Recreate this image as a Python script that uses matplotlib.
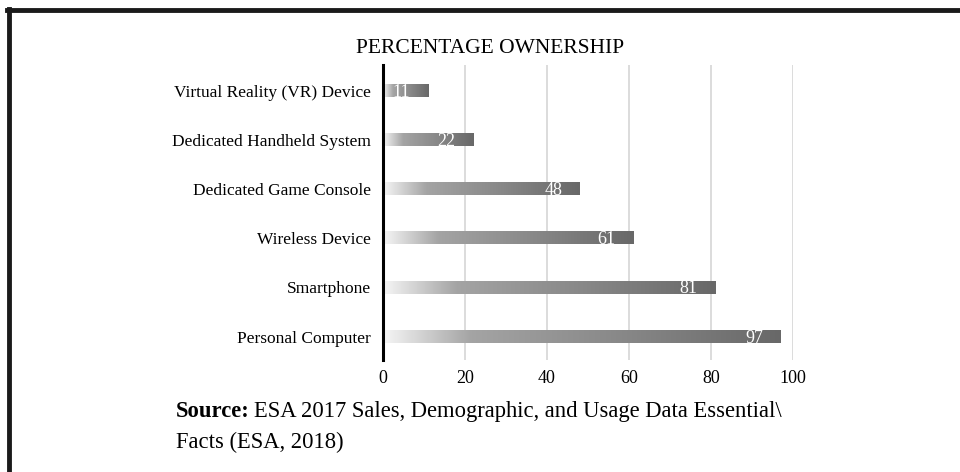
import matplotlib.pyplot as plt
import numpy as np
from matplotlib.colors import LinearSegmentedColormap
from matplotlib.lines import Line2D

devices = ["Personal Computer", "Smartphone", "Wireless Device",
           "Dedicated Game Console", "Dedicated Handheld System",
           "Virtual Reality (VR) Device"]
ownership = [97, 81, 61, 48, 22, 11]
xticks = [0, 20, 40, 60, 80, 100]

plt.rcParams["font.family"] = ["Liberation Serif", "DejaVu Serif"]

fig = plt.figure(figsize=(9.6, 4.72), dpi=100)
ax = fig.add_axes([0.399, 0.237, 0.427, 0.625])

# fade from near-white on the left to dark grey at the bar end
fade = LinearSegmentedColormap.from_list(
    "fade", [(0.0, "#f6f6f6"), (0.22, "#a4a4a4"), (0.6, "#888888"), (1.0, "#686868")])
grad = np.linspace(0, 1, 256).reshape(1, -1)

bar_h = 0.245
for i, (name, val) in enumerate(zip(devices, ownership)):
    ax.imshow(grad, cmap=fade, aspect="auto", interpolation="bicubic",
              extent=[0, val, i - bar_h / 2, i + bar_h / 2], zorder=2)
    ax.text(val - 4.3, i - 0.03, str(val), color="white", fontsize=13,
            ha="right", va="center", zorder=3)

ax.set_xlim(0, 100)
ax.set_ylim(-0.48, 5.53)
ax.set_yticks(range(len(devices)))
ax.set_yticklabels(devices, fontsize=12.5)
ax.set_xticks(xticks)
ax.set_xticklabels([str(t) for t in xticks], fontsize=13)
ax.tick_params(axis="y", length=0, pad=9)
ax.tick_params(axis="x", length=0, pad=7)
ax.xaxis.grid(True, color="#d9d9d9", lw=1.3)
ax.set_axisbelow(True)
for side in ["top", "right", "bottom"]:
    ax.spines[side].set_visible(False)
ax.spines["left"].set_linewidth(2.2)
ax.spines["left"].set_color("black")
ax.spines["left"].set_zorder(4)

fig.text(0.511, 0.897, "PERCENTAGE OWNERSHIP", fontsize=15.5, ha="center", va="center")

src = fig.text(0.183, 0.128, "Source:", fontsize=16.3, fontweight="bold",
               ha="left", va="center")
fig.canvas.draw()
bb = src.get_window_extent()
x_end = bb.x1 / fig.bbox.width
fig.text(x_end + 0.005, 0.128, "ESA 2017 Sales, Demographic, and Usage Data Essential\\",
         fontsize=16.3, ha="left", va="center")
fig.text(0.183, 0.062, "Facts (ESA, 2018)", fontsize=16.3, ha="left", va="center")

# outer frame: top and left edges only
fig.add_artist(Line2D([0.0075, 1.0], [0.979, 0.979], color="#1a1a1a", lw=3.5,
                      transform=fig.transFigure))
fig.add_artist(Line2D([0.0095, 0.0095], [0.0, 0.981], color="#1a1a1a", lw=3.5,
                      transform=fig.transFigure))

fig.savefig("out.png", dpi=100, facecolor="white")
